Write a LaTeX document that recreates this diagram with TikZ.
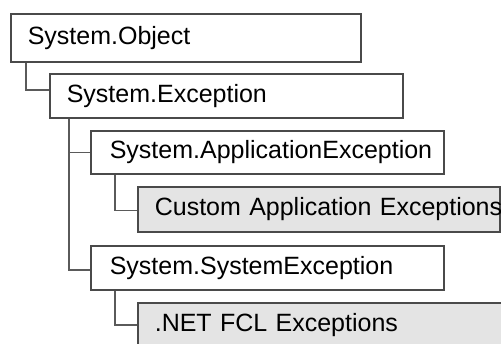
\documentclass[tikz,border=0pt]{standalone}
\usepackage{fontspec}
\setmainfont{Liberation Sans}
\definecolor{edge}{HTML}{4A4A4A}
\definecolor{link}{HTML}{5A5A5A}
\definecolor{shade}{HTML}{E4E4E4}
\begin{document}
\begin{tikzpicture}[x=1pt,y=-1pt,
  cls/.style={draw=edge,line width=1.6pt,fill=white,anchor=north west,
    inner xsep=0pt,inner ysep=0pt,rectangle,align=left,
    font=\fontsize{25}{27}\selectfont},
  ext/.style={cls,fill=shade},
  conn/.style={draw=link,line width=1.6pt}]
\useasboundingbox (0,0) rectangle (501,343);
\clip (0,0) rectangle (501,343);
\node[cls,minimum width=350pt,minimum height=48pt,text width=316pt,inner xsep=17pt] (o) at (10,13) {\mbox{System.Object}};
\node[cls,minimum width=353pt,minimum height=44pt,text width=319pt,inner xsep=17pt] (e) at (49,73) {\mbox{System.Exception}};
\node[cls,minimum width=353pt,minimum height=43pt,text width=315pt,inner xsep=19pt] (a) at (90,130) {\mbox{System.ApplicationException}};
\node[ext,minimum width=362pt,minimum height=45pt,text width=328pt,inner xsep=17pt] (c) at (137,186) {\mbox{Custom Application Exceptions}};
\node[cls,minimum width=353pt,minimum height=44pt,text width=315pt,inner xsep=19pt] (s) at (90,245) {\mbox{System.SystemException}};
\node[ext,minimum width=383pt,minimum height=44pt,text width=349pt,inner xsep=17pt] (n) at (137,302) {\mbox{.NET FCL Exceptions}};
% connectors
\draw[conn] ([xshift=16pt]o.south west) |- ([yshift=6pt]e.west);
\draw[conn] ([xshift=20pt]e.south west) |- ([yshift=-2pt]s.west);
\draw[conn] ([xshift=20pt]e.south west |- a.west) -- (a.west);
\draw[conn] ([xshift=25pt]a.south west) |- ([yshift=-1pt]c.west);
\draw[conn] ([xshift=25pt]s.south west) |- (n.west);
\end{tikzpicture}
\end{document}
